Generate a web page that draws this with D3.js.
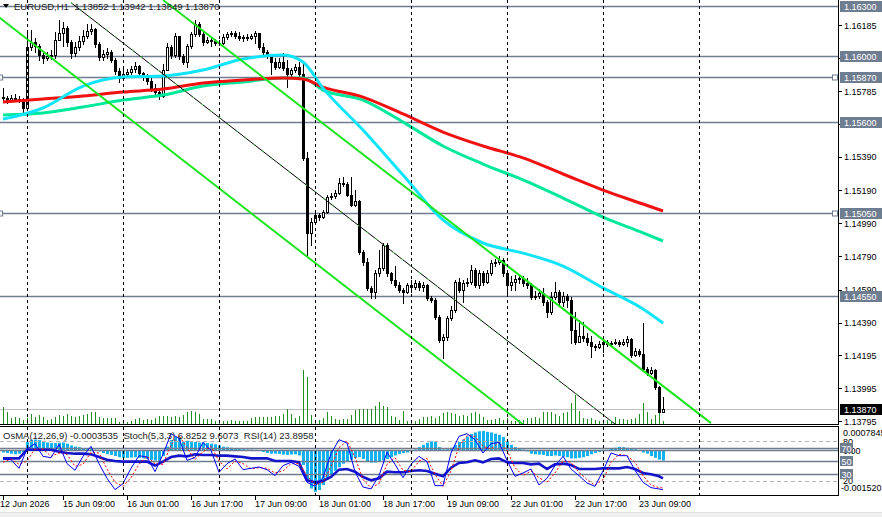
<!DOCTYPE html>
<html>
<head>
<meta charset="utf-8">
<script src="https://cdn.jsdelivr.net/npm/d3@7"></script>
<style>
  body { margin: 0; background: #fff; }
  svg { display: block; font-family: 'Liberation Sans', Arial, sans-serif; }
  text { white-space: pre; }
</style>
</head>
<body>
<svg width="882" height="517"></svg>
<script>
// EURUSD H1 bars, 12 Jun 18:00 .. 23 Jun 15:00 (bar index 0..165)
const firstOpen = 1.15751;
const closes = [
  1.15745,1.15733,1.15745,1.15739,1.15733,1.15685,1.16053,1.16083,1.16059,1.16004,
  1.15986,1.15998,1.16004,1.16095,1.16137,1.16167,1.16083,1.16016,1.16053,1.16089,
  1.16119,1.16149,1.16161,1.16071,1.15992,1.16010,1.16022,1.15974,1.15908,1.15866,
  1.15890,1.15902,1.15920,1.15938,1.15896,1.15878,1.15848,1.15805,1.15781,1.15757,
  1.15914,1.16053,1.16004,1.16119,1.15998,1.15962,1.16059,1.16131,1.16191,1.16131,
  1.16083,1.16095,1.16089,1.16077,1.16077,1.16113,1.16131,1.16137,1.16119,1.16107,
  1.16113,1.16107,1.16119,1.16137,1.16053,1.16022,1.15998,1.15962,1.15932,1.15962,
  1.15926,1.15890,1.15914,1.15932,1.15890,1.15384,1.14932,1.14998,1.15040,1.15028,
  1.15058,1.15148,1.15154,1.15172,1.15233,1.15227,1.15160,1.15100,1.15124,1.14817,
  1.14756,1.14600,1.14575,1.14690,1.14720,1.14859,1.14690,1.14648,1.14618,1.14587,
  1.14575,1.14618,1.14606,1.14630,1.14606,1.14618,1.14539,1.14527,1.14424,1.14286,
  1.14304,1.14418,1.14467,1.14636,1.14587,1.14630,1.14636,1.14708,1.14618,1.14690,
  1.14636,1.14690,1.14750,1.14756,1.14768,1.14690,1.14618,1.14636,1.14654,1.14660,
  1.14630,1.14618,1.14545,1.14551,1.14569,1.14515,1.14455,1.14545,1.14575,1.14515,
  1.14551,1.14527,1.14346,1.14274,1.14310,1.14298,1.14274,1.14250,1.14244,1.14262,
  1.14274,1.14262,1.14268,1.14274,1.14262,1.14274,1.14292,1.14195,1.14219,1.14201,
  1.14111,1.14087,1.14105,1.14003,1.13852,1.13870
];
const highs = [
  1.15805,1.15757,1.15763,1.15769,1.15757,1.15745,1.16137,1.16155,1.16107,1.16071,
  1.16022,1.16022,1.16034,1.16143,1.16215,1.16203,1.16179,1.16095,1.16083,1.16119,
  1.16155,1.16191,1.16191,1.16167,1.16083,1.16034,1.16047,1.16034,1.15986,1.15926,
  1.15926,1.15920,1.15938,1.15962,1.15944,1.15902,1.15890,1.15878,1.15830,1.15805,
  1.15950,1.16077,1.16065,1.16137,1.16119,1.16010,1.16071,1.16143,1.16215,1.16203,
  1.16143,1.16113,1.16113,1.16101,1.16095,1.16131,1.16143,1.16149,1.16149,1.16143,
  1.16125,1.16131,1.16131,1.16149,1.16137,1.16077,1.16034,1.16004,1.15986,1.15986,
  1.16016,1.15974,1.15926,1.15950,1.15962,1.15956,1.15420,1.15022,1.15058,1.15052,
  1.15070,1.15160,1.15172,1.15190,1.15263,1.15269,1.15239,1.15269,1.15190,1.15130,
  1.14829,1.14781,1.14612,1.14708,1.14829,1.14871,1.14871,1.14696,1.14732,1.14636,
  1.14600,1.14630,1.14648,1.14648,1.14642,1.14636,1.14624,1.14551,1.14539,1.14437,
  1.14322,1.14430,1.14491,1.14648,1.14660,1.14648,1.14660,1.14738,1.14720,1.14708,
  1.14702,1.14708,1.14768,1.14775,1.14793,1.14781,1.14696,1.14672,1.14678,1.14678,
  1.14672,1.14660,1.14630,1.14581,1.14593,1.14600,1.14527,1.14575,1.14636,1.14587,
  1.14575,1.14563,1.14545,1.14455,1.14406,1.14394,1.14328,1.14310,1.14262,1.14280,
  1.14286,1.14286,1.14280,1.14292,1.14286,1.14292,1.14310,1.14298,1.14238,1.14232,
  1.14388,1.14123,1.14123,1.14111,1.14009,1.13942
];
const lows = [
  1.15727,1.15715,1.15727,1.15727,1.15721,1.15661,1.15685,1.16034,1.16022,1.15974,
  1.15956,1.15974,1.15980,1.15986,1.16095,1.16059,1.16059,1.15986,1.15998,1.16034,
  1.16071,1.16107,1.16131,1.16053,1.15974,1.15974,1.15986,1.15962,1.15890,1.15842,
  1.15854,1.15878,1.15890,1.15902,1.15878,1.15854,1.15830,1.15787,1.15763,1.15739,
  1.15751,1.15914,1.15986,1.15992,1.15980,1.15950,1.15932,1.16047,1.16119,1.16119,
  1.16065,1.16077,1.16059,1.16065,1.16065,1.16071,1.16101,1.16119,1.16107,1.16095,
  1.16089,1.16095,1.16101,1.16077,1.16041,1.16010,1.15986,1.15890,1.15920,1.15926,
  1.15914,1.15811,1.15878,1.15902,1.15878,1.15371,1.14787,1.14859,1.14986,1.15010,
  1.15022,1.15052,1.15136,1.15142,1.15166,1.15215,1.15154,1.15094,1.15094,1.14805,
  1.14738,1.14587,1.14539,1.14539,1.14672,1.14708,1.14672,1.14630,1.14606,1.14575,
  1.14509,1.14569,1.14575,1.14593,1.14587,1.14581,1.14527,1.14515,1.14412,1.14274,
  1.14177,1.14286,1.14406,1.14455,1.14575,1.14515,1.14612,1.14624,1.14606,1.14600,
  1.14618,1.14630,1.14678,1.14732,1.14744,1.14672,1.14557,1.14587,1.14587,1.14630,
  1.14612,1.14600,1.14533,1.14533,1.14539,1.14497,1.14424,1.14443,1.14533,1.14497,
  1.14491,1.14485,1.14268,1.14262,1.14286,1.14280,1.14256,1.14183,1.14225,1.14238,
  1.14213,1.14250,1.14256,1.14262,1.14250,1.14256,1.14250,1.14183,1.14189,1.14189,
  1.14099,1.14075,1.14081,1.13991,1.13849,1.13849
];
const volumes = [
  1700,1200,600,700,600,400,600,1000,700,900,
  700,400,500,700,900,800,1000,800,700,800,
  900,1000,1200,1200,700,600,600,600,600,200,
  100,200,300,500,600,400,500,400,600,800,
  800,800,700,800,700,900,1200,1300,1200,1000,
  500,500,500,300,100,300,300,400,300,300,
  300,300,600,700,700,700,700,700,800,800,
  1000,1500,1000,600,800,5400,4700,900,400,400,
  600,1200,800,500,400,500,500,900,1400,1500,
  1500,1500,1500,1800,2200,1800,1700,800,700,400,
  1300,300,300,300,500,700,700,800,600,800,
  1100,1200,1100,1000,800,900,800,1100,1200,1000,
  700,400,400,500,600,400,600,300,300,400,
  400,600,600,700,600,1200,1200,1200,1000,800,
  1100,1200,2100,2900,1300,600,500,600,400,300,
  400,400,300,700,500,500,400,500,600,1000,
  2100,1200,500,900,1500,300
];

// moving averages, read at these bars
const maBars = [0, 10, 20, 30, 40, 50, 60, 70, 75, 80, 90, 100, 110, 120, 130, 140, 150, 160, 165];
const maSlow = [1.15721,1.15739,1.15757,1.15781,1.15799,1.15836,1.15854,1.15866,1.15860,1.15811,
  1.15751,1.15649,1.15540,1.15456,1.15384,1.15287,1.15190,1.15106,1.15064];
const maMid = [1.15643,1.15655,1.15691,1.15733,1.15763,1.15817,1.15842,1.15866,1.15866,1.15793,
  1.15733,1.15600,1.15456,1.15347,1.15251,1.15142,1.15027,1.14932,1.14883];
const maFast = [1.15618,1.15685,1.15817,1.15872,1.15878,1.15914,1.15980,1.16004,1.15962,1.15805,
  1.15552,1.15281,1.15010,1.14871,1.14810,1.14732,1.14600,1.14473,1.14388];

// drawn objects: [bar, price] end points
const channelLines = [
  [[-1, 1.16232], [130, 1.13777]],
  [[40, 1.16336], [177, 1.13785]]
];
const middleLine = [[17, 1.16320], [153, 1.13779]];
const levels = [1.16300, 1.16000, 1.15870, 1.15600, 1.15050, 1.14550];
const anchoredLevels = [1.15870, 1.15050];
const lastPrice = 1.13870;

const priceTicks = [1.16185, 1.15985, 1.15785, 1.15590, 1.15390, 1.15190, 1.14990,
  1.14790, 1.14590, 1.14390, 1.14195, 1.13995, 1.13795];
const gridBars = [6, 30, 54, 78, 102, 126, 150, 174];
const timeLabelBars = [0, 15, 31, 47, 63, 79, 95, 111, 127, 143, 159];
const timeLabels = ['12 Jun 2026', '15 Jun 09:00', '16 Jun 01:00', '16 Jun 17:00', '17 Jun 09:00',
  '18 Jun 01:00', '18 Jun 17:00', '19 Jun 09:00', '22 Jun 01:00', '22 Jun 17:00', '23 Jun 09:00'];

// OsMA(12,26,9) per bar
const osma = [
  -0.00008,-0.0001,-0.00012,-0.00014,-0.00012,-0.00008,0.00028,0.00035,0.00036,0.00034,
  0.0003,0.00026,0.00024,0.00024,0.00025,0.00026,0.00022,0.00016,0.00012,0.0001,
  0.00006,0.00004,0.00003,0.00001,-0.00004,-0.0001,-0.00014,-0.00016,-0.0002,-0.00024,
  -0.00026,-0.00026,-0.00025,-0.00024,-0.00026,-0.00028,-0.0003,-0.00033,-0.00035,-0.00036,
  -0.0002,0.00012,0.00034,0.00045,0.00042,0.0003,0.00032,0.0003,0.00028,0.00026,
  0.00026,0.00024,0.00022,0.0002,0.00016,0.00012,0.0001,0.00008,0.00006,0.00004,
  0.00003,0.00002,0.00002,0.00001,-0.00003,-0.00006,-0.0001,-0.00012,-0.00012,-0.00013,
  -0.00015,-0.00016,-0.00015,-0.00014,-0.00018,-0.0005,-0.001,-0.0013,-0.00141,-0.00135,
  -0.00118,-0.001,-0.00085,-0.0007,-0.00058,-0.00046,-0.00038,-0.00032,-0.00026,-0.00024,
  -0.0003,-0.00038,-0.00042,-0.00042,-0.0004,-0.00035,-0.0003,-0.00024,-0.00018,-0.00013,
  -0.0001,-0.00008,-0.00004,0.00002,0.0001,0.00018,0.00025,0.0003,0.00028,0.0001,
  0.00002,0.00003,0.00008,0.00018,0.00028,0.00036,0.00046,0.00055,0.0006,0.00064,
  0.00065,0.00062,0.0006,0.00056,0.00052,0.00045,0.0003,0.00018,0.0001,0.00006,
  0.00002,-0.00004,-0.00012,-0.00014,-0.00015,-0.00016,-0.0002,-0.0002,-0.00018,-0.0002,
  -0.00022,-0.00024,-0.00028,-0.00028,-0.00026,-0.00024,-0.0002,-0.00014,-0.0001,-0.00006,
  -0.00003,0.00001,0.00004,0.00008,0.00011,0.0001,0.00008,0.00006,0.00003,-0.00001,
  -0.00008,-0.00012,-0.0002,-0.00026,-0.00032,-0.0003535
];

// Stoch(5,3,3) and RSI(14), read every second bar
const oscBars = d3.range(0, 166, 2).concat([165]);
const stochMain = [
  53,52,39,68,76,57,55,75,46,36, 57,72,46,24,7,16,39,58,56,34,
  60,91,84,51,55,78,66,33,46,53, 37,39,41,37,28,43,48,42,18,12,
  25,61,82,77,34,11,8,28,63,45, 25,45,57,49,13,13,62,87,91,82,
  62,76,78,51,27,32,38,14,24,43, 57,38,28,17,12,35,62,58,58,36,
  18,10,8,6.8252
];
const stochSignal = [
  48,53,45,50,68,68,57,62,60,42, 45,63,62,38,18,12,25,45,57,46,
  45,74,88,70,52,64,72,50,38,50, 46,38,40,39,32,35,46,46,28,14,
  18,42,70,80,56,22,10,16,45,55, 36,34,50,54,30,12,35,72,88,87,
  72,68,78,66,40,28,35,25,18,32, 50,48,33,22,14,22,48,60,58,48,
  28,14,10,9.6073
];
const rsi = [
  54,54,54,67,67,67,67,64,62,61, 61,60,56,52,50,49,49,49,49,43,
  49,56,58,57,60,59,59,58,58,57, 56,54,54,54,50,50,50,48,21,18,
  20,26,37,38,34,26,21,24,34,33, 33,35,36,35,31,27,40,47,48,51,
  48,53,54,48,47,47,45,46,38,45, 46,44,38,38,38,39,39,39,41,38,
  32,30,27,23.8958
];
const oscLevels = [70, 50, 30];
const oscDashed = [80, 20];

const svg = d3.select('svg');
const plotRight = 838;
const mainBottom = 424;
const indTop = 427, indBottom = 495;
const levelColor = '#6f7d90';

const x = d3.scaleLinear().domain([-0.75, 208.75]).range([0, plotRight]);
const y = d3.scaleLinear().domain([1.1387, 1.163]).range([409, 6]);
const yVol = d3.scaleLinear().domain([0, 5400]).range([mainBottom, 370]);
const yOsma = d3.scaleLinear().domain([-0.00152, 0.0007845]).range([indBottom, indTop]);
const yOsc = d3.scaleLinear().domain([0, 100]).range([494.3, 427.7]);
const px = i => Math.round(x(i));
const crisp = v => Math.round(v) + 0.5;

const defs = svg.append('defs');
defs.append('clipPath').attr('id', 'clipMain')
  .append('rect').attr('x', 0).attr('y', 0).attr('width', plotRight).attr('height', mainBottom);
defs.append('clipPath').attr('id', 'clipInd')
  .append('rect').attr('x', 0).attr('y', indTop).attr('width', plotRight).attr('height', indBottom - indTop);

svg.append('rect').attr('x', 0).attr('y', 512).attr('width', 882).attr('height', 5).attr('fill', '#f0f0f0');
svg.append('line').attr('x1', 0).attr('x2', 882).attr('y1', 512.5).attr('y2', 512.5).attr('stroke', '#e0e0e0');

const g = svg.append('g').attr('clip-path', 'url(#clipMain)');
const gi = svg.append('g').attr('clip-path', 'url(#clipInd)');

// vertical grid (day separators)
[[0, mainBottom], [indTop, indBottom]].forEach(([a, b]) => {
  svg.append('g').selectAll('line').data(gridBars).enter().append('line')
    .attr('x1', d => px(d) + 0.5).attr('x2', d => px(d) + 0.5)
    .attr('y1', a).attr('y2', b)
    .attr('stroke', '#000').attr('stroke-dasharray', '3,3');
});

// horizontal levels
g.selectAll('.level').data(levels).enter().append('line')
  .attr('x1', 0).attr('x2', plotRight)
  .attr('y1', d => crisp(y(d))).attr('y2', d => crisp(y(d)))
  .attr('stroke', levelColor).attr('stroke-width', 1.3);
g.append('line')
  .attr('x1', 0).attr('x2', plotRight)
  .attr('y1', crisp(y(lastPrice))).attr('y2', crisp(y(lastPrice)))
  .attr('stroke', '#c0c0c0');

// volumes
g.selectAll('.vol').data(volumes).enter().append('line')
  .attr('x1', (d, i) => px(i) + 0.5).attr('x2', (d, i) => px(i) + 0.5)
  .attr('y1', mainBottom).attr('y2', d => Math.round(yVol(d)))
  .attr('stroke', '#1f8f1f');

// candles
const candles = closes.map((c, i) => ({
  i, open: i === 0 ? firstOpen : closes[i - 1], high: highs[i], low: lows[i], close: c
}));
const cg = g.selectAll('.candle').data(candles).enter().append('g');
cg.append('line')
  .attr('x1', d => px(d.i) + 0.5).attr('x2', d => px(d.i) + 0.5)
  .attr('y1', d => Math.min(Math.round(y(d.high)), Math.round(y(Math.max(d.open, d.close)))))
  .attr('y2', d => Math.max(Math.round(y(d.low)), Math.round(y(Math.min(d.open, d.close)))) + 1)
  .attr('stroke', '#000');
cg.append('rect')
  .each(function(d) {
    const top = Math.round(y(Math.max(d.open, d.close)));
    const bot = Math.round(y(Math.min(d.open, d.close)));
    const up = d.close > d.open;
    d3.select(this)
      .attr('x', up ? px(d.i) - 0.5 : px(d.i) - 1)
      .attr('y', up ? top + 0.5 : top)
      .attr('width', up ? 2 : 3)
      .attr('height', up ? Math.max(bot - top, 1) : Math.max(bot - top + 1, 1))
      .attr('fill', up ? '#fff' : '#000')
      .attr('stroke', up ? '#000' : 'none');
  });

// moving averages
const maLine = d3.line().x(d => x(d[0])).y(d => y(d[1])).curve(d3.curveMonotoneX);
[[maMid, '#00e89a'], [maSlow, '#f01010'], [maFast, '#10e4f8']].forEach(([vals, col]) => {
  g.append('path')
    .attr('d', maLine(maBars.map((b, k) => [b, vals[k]])))
    .attr('fill', 'none').attr('stroke', col).attr('stroke-width', 3);
});

// trend lines
const segLine = d3.line().x(d => x(d[0])).y(d => y(d[1]));
channelLines.forEach(pts => {
  g.append('path').attr('d', segLine(pts))
    .attr('fill', 'none').attr('stroke', '#1ee61e').attr('stroke-width', 2);
});
g.append('path').attr('d', segLine(middleLine))
  .attr('fill', 'none').attr('stroke', '#000').attr('stroke-width', 1);
g.append('path').attr('d', segLine(middleLine))
  .attr('fill', 'none').attr('stroke', '#20e020').attr('stroke-width', 1)
  .attr('stroke-dasharray', '2,9');

// anchor squares on two levels
anchoredLevels.forEach(v => {
  [-2.5, plotRight - 5.5].forEach(sx => {
    svg.append('rect').attr('x', sx).attr('y', crisp(y(v)) - 2.5)
      .attr('width', 5).attr('height', 5)
      .attr('fill', '#fff').attr('stroke', levelColor);
  });
});

// indicator window
gi.selectAll('.osma').data(osma).enter().append('rect')
  .attr('x', (d, i) => px(i) - 1)
  .attr('y', d => Math.min(yOsma(0), yOsma(d)))
  .attr('width', 3)
  .attr('height', d => Math.abs(yOsma(d) - yOsma(0)))
  .attr('fill', '#12b2f0');
gi.selectAll('.dlev').data(oscDashed).enter().append('line')
  .attr('x1', 0).attr('x2', plotRight)
  .attr('y1', d => crisp(yOsc(d))).attr('y2', d => crisp(yOsc(d)))
  .attr('stroke', '#b4b4b4').attr('stroke-dasharray', '4,3');
gi.selectAll('.slev').data(oscLevels).enter().append('line')
  .attr('x1', 0).attr('x2', plotRight)
  .attr('y1', d => crisp(yOsc(d))).attr('y2', d => crisp(yOsc(d)))
  .attr('stroke', levelColor).attr('stroke-width', 1.3);
gi.append('line')
  .attr('x1', 0).attr('x2', plotRight)
  .attr('y1', crisp(yOsma(0))).attr('y2', crisp(yOsma(0)))
  .attr('stroke', levelColor).attr('stroke-width', 1.3);

const oscLine = vals => d3.line().x((d, k) => x(oscBars[k])).y(d => yOsc(d))(vals);
gi.append('path').attr('d', oscLine(rsi))
  .attr('fill', 'none').attr('stroke', '#1414c8').attr('stroke-width', 2.6);
gi.append('path').attr('d', oscLine(stochSignal))
  .attr('fill', 'none').attr('stroke', '#ff0000').attr('stroke-width', 1).attr('stroke-dasharray', '2,2');
gi.append('path').attr('d', oscLine(stochMain))
  .attr('fill', 'none').attr('stroke', '#0000ff').attr('stroke-width', 1);

// frames
const frame = svg.append('g').attr('stroke', '#000').attr('shape-rendering', 'crispEdges');
frame.append('line').attr('x1', 0).attr('x2', plotRight + 1).attr('y1', mainBottom + 0.5).attr('y2', mainBottom + 0.5);
frame.append('line').attr('x1', 0).attr('x2', plotRight + 1).attr('y1', indTop - 0.5).attr('y2', indTop - 0.5);
frame.append('line').attr('x1', 0).attr('x2', plotRight + 1).attr('y1', indBottom + 0.5).attr('y2', indBottom + 0.5);
frame.append('line').attr('x1', plotRight + 0.5).attr('x2', plotRight + 0.5).attr('y1', 0).attr('y2', mainBottom);
frame.append('line').attr('x1', plotRight + 0.5).attr('x2', plotRight + 0.5).attr('y1', indTop).attr('y2', indBottom);

// price axis
const axisG = svg.append('g').attr('font-size', '9px');
axisG.selectAll('.ptick').data(priceTicks).enter().append('line')
  .attr('x1', plotRight).attr('x2', plotRight + 4)
  .attr('y1', d => crisp(y(d))).attr('y2', d => crisp(y(d)))
  .attr('stroke', '#000');
axisG.selectAll('.plabel').data(priceTicks).enter().append('text')
  .attr('x', plotRight + 6).attr('y', d => y(d) + 3.5)
  .text(d => d.toFixed(5));

const boxes = svg.append('g').attr('font-size', '9px');
levels.forEach(v => {
  boxes.append('rect').attr('x', plotRight + 2).attr('y', Math.round(y(v)) - 5)
    .attr('width', 44).attr('height', 11).attr('fill', levelColor);
  boxes.append('text').attr('x', plotRight + 6).attr('y', Math.round(y(v)) + 4)
    .attr('fill', '#fff').text(v.toFixed(5));
});
boxes.append('rect').attr('x', plotRight + 2).attr('y', Math.round(y(lastPrice)) - 5)
  .attr('width', 44).attr('height', 11).attr('fill', '#000');
boxes.append('text').attr('x', plotRight + 6).attr('y', Math.round(y(lastPrice)) + 4)
  .attr('fill', '#fff').text(lastPrice.toFixed(5));

// indicator axis
const indAxis = svg.append('g').attr('font-size', '9px');
indAxis.append('text').attr('x', plotRight + 5).attr('y', yOsma(0.0007845) + 9).text('0.0007845');
indAxis.append('text').attr('x', plotRight + 5).attr('y', yOsc(80) + 3.5).text('80');
indAxis.append('text').attr('x', plotRight + 5).attr('y', yOsma(0) + 3.5).text('0.00');
indAxis.append('text').attr('x', plotRight + 5).attr('y', yOsc(20) + 3.5).text('20');
indAxis.append('text').attr('x', plotRight + 3).attr('y', yOsma(-0.00152) - 4).text('-0.001520');
oscLevels.forEach(v => {
  indAxis.append('rect').attr('x', plotRight + 2).attr('y', Math.round(yOsc(v)) - 5)
    .attr('width', 13).attr('height', 10).attr('fill', levelColor);
  indAxis.append('text').attr('x', plotRight + 3.5).attr('y', Math.round(yOsc(v)) + 3.5)
    .attr('fill', '#fff').text(v);
});

// time axis
const timeG = svg.append('g').attr('font-size', '9px');
timeG.selectAll('.ttick').data(timeLabelBars).enter().append('line')
  .attr('x1', d => px(d) + 0.5).attr('x2', d => px(d) + 0.5)
  .attr('y1', indBottom + 1).attr('y2', indBottom + 5)
  .attr('stroke', '#000');
timeG.selectAll('.tlabel').data(timeLabelBars).enter().append('text')
  .attr('x', (d, k) => k === 0 ? 0 : px(d))
  .attr('y', 507)
  .text((d, k) => timeLabels[k]);

// headers
svg.append('path').attr('d', 'M3,4 L9,4 L6,8 Z').attr('fill', '#000');
svg.append('text').attr('x', 14).attr('y', 10).attr('font-size', '9.5px').attr('fill', '#222')
  .text('EURUSD,H1  1.13852 1.13942 1.13849 1.13870');
svg.append('text').attr('x', 3).attr('y', 438.5).attr('font-size', '9.5px').attr('fill', '#222')
  .text('OsMA(12,26,9) -0.0003535  Stoch(5,3,3) 6.8252 9.6073  RSI(14) 23.8958');
</script>
</body>
</html>
